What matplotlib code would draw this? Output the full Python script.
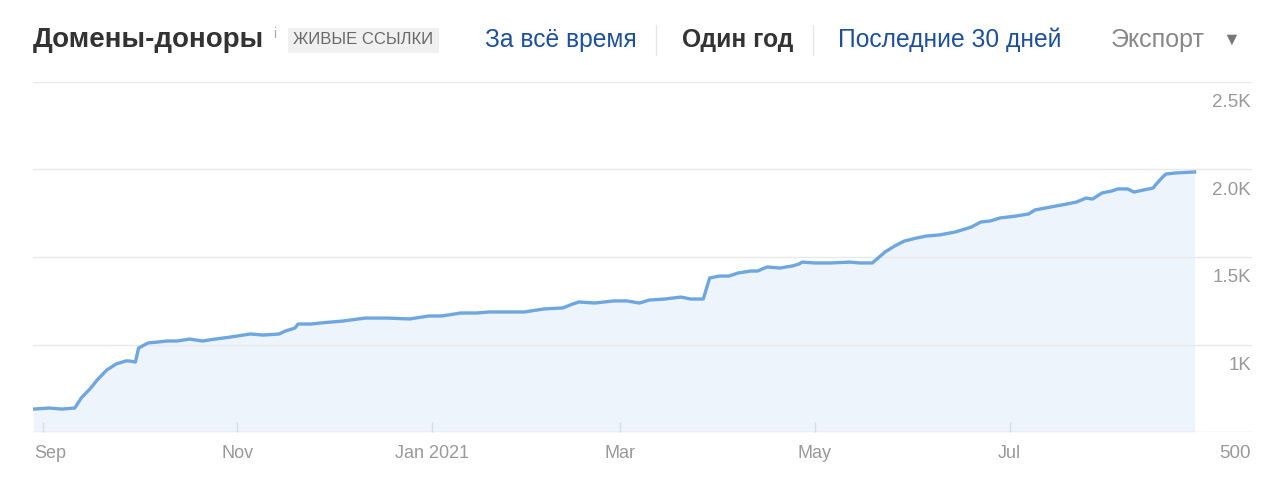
import matplotlib.pyplot as plt
import matplotlib.dates as mdates
import matplotlib.transforms as mtransforms
from matplotlib.lines import Line2D
import pandas as pd

# referring domains, live links, one year
dates = ["2020-08-29", "2020-09-03", "2020-09-07", "2020-09-11", "2020-09-13", "2020-09-16",
         "2020-09-18", "2020-09-21", "2020-09-24", "2020-09-27", "2020-09-28", "2020-09-30",
         "2020-10-01", "2020-10-04", "2020-10-07", "2020-10-10", "2020-10-13", "2020-10-17",
         "2020-10-21", "2020-10-25", "2020-10-30", "2020-11-05", "2020-11-09", "2020-11-14",
         "2020-11-16", "2020-11-19", "2020-11-20", "2020-11-24", "2020-11-27", "2020-12-04",
         "2020-12-11", "2020-12-18", "2020-12-25", "2020-12-31", "2021-01-04", "2021-01-10",
         "2021-01-15", "2021-01-19", "2021-01-26", "2021-01-30", "2021-02-05", "2021-02-11",
         "2021-02-14", "2021-02-16", "2021-02-21", "2021-02-27", "2021-03-03", "2021-03-07",
         "2021-03-10", "2021-03-15", "2021-03-20", "2021-03-23", "2021-03-27", "2021-03-28",
         "2021-03-29", "2021-04-01", "2021-04-04", "2021-04-07", "2021-04-11", "2021-04-13",
         "2021-04-16", "2021-04-20", "2021-04-24", "2021-04-26", "2021-04-27", "2021-05-01",
         "2021-05-06", "2021-05-12", "2021-05-15", "2021-05-19", "2021-05-23", "2021-05-26",
         "2021-05-29", "2021-06-02", "2021-06-05", "2021-06-09", "2021-06-14", "2021-06-19",
         "2021-06-22", "2021-06-25", "2021-06-28", "2021-07-03", "2021-07-07", "2021-07-09",
         "2021-07-14", "2021-07-19", "2021-07-22", "2021-07-25", "2021-07-27", "2021-07-30",
         "2021-08-02", "2021-08-04", "2021-08-07", "2021-08-09", "2021-08-12", "2021-08-15",
         "2021-08-16", "2021-08-18", "2021-08-19", "2021-08-22", "2021-08-28"]
values = [631, 637, 631, 637, 694, 751,
          797, 854, 889, 906, 906, 900,
          980, 1009, 1014, 1020, 1020, 1031,
          1020, 1031, 1043, 1060, 1054, 1060,
          1077, 1094, 1117, 1117, 1123, 1134,
          1151, 1151, 1146, 1163, 1163, 1180,
          1180, 1186, 1186, 1186, 1203, 1209,
          1231, 1243, 1237, 1249, 1249, 1237,
          1254, 1260, 1271, 1260, 1260, 1320,
          1380, 1391, 1391, 1409, 1420, 1420,
          1443, 1437, 1449, 1460, 1471, 1466,
          1466, 1471, 1466, 1466, 1529, 1563,
          1591, 1609, 1620, 1626, 1643, 1671,
          1700, 1706, 1723, 1734, 1746, 1769,
          1786, 1803, 1814, 1837, 1831, 1866,
          1877, 1889, 1889, 1871, 1883, 1894,
          1917, 1957, 1974, 1980, 1986]

month_ticks = ["2020-09-01", "2020-11-01", "2021-01-01", "2021-03-01", "2021-05-01", "2021-07-01"]
month_labels = ["Sep", "Nov", "Jan 2021", "Mar", "May", "Jul"]
y_ticks = [500, 1000, 1500, 2000, 2500]
y_labels = ["500", "1K", "1.5K", "2.0K", "2.5K"]

plt.rcParams['font.family'] = ['Liberation Sans', 'DejaVu Sans']

W, H = 1280, 488
fig = plt.figure(figsize=(W / 100, H / 100), dpi=100)
ax = fig.add_axes([33 / W, 1 - 432 / H, (1252 - 33) / W, 350 / H])

x = pd.to_datetime(dates)
ax.fill_between(x, values, 500, color="#eef4fc", lw=0, zorder=1)
for v in y_ticks:
    ax.axhline(v, color="#dedede" if v == 500 else "#e8e8e8", lw=1, zorder=1.5)
ax.plot(x, values, color="#6ea6e0", lw=2.4, solid_joinstyle="round", zorder=3)

start = mdates.date2num(pd.Timestamp("2020-09-01"))
ax.set_xlim(start - 3.1, start + 379)
ax.set_ylim(500, 2500)

for s in ax.spines.values():
    s.set_visible(False)

ax.set_yticks([])
ax.set_xticks(pd.to_datetime(month_ticks))
ax.set_xticklabels(month_labels)
ax.tick_params(axis="x", direction="in", length=7, color="#dcdcdc", width=1,
               labelsize=13, labelcolor="#999999", pad=9)
# first label sits a bit right of its tick, as in the app
first = ax.get_xticklabels()[0]
first.set_transform(first.get_transform() +
                    mtransforms.ScaledTranslation(7 / 100, 0, fig.dpi_scale_trans))

for v, lab in zip(y_ticks, y_labels):
    ax.annotate(lab, xy=(1, v), xycoords=("axes fraction", "data"),
                xytext=(-1, -21), textcoords="offset pixels",
                ha="right", va="center", fontsize=13.5, color="#999999")

# header
yh = 1 - 40 / H
fig.text(33 / W, yh, "Домены-доноры", fontsize=20, fontweight="bold", color="#333333",
         ha="left", va="center")
fig.text(273 / W, 1 - 34 / H, "i", fontsize=10, color="#aaaaaa", ha="left", va="center")
fig.text(363.5 / W, yh, "ЖИВЫЕ ССЫЛКИ", fontsize=12, color="#6a6a6a", ha="center", va="center",
         bbox=dict(boxstyle="square,pad=0.3", fc="#f0f0f0", ec="none"))
fig.text(485 / W, yh, "За всё время", fontsize=17.7, color="#1d4f9c", ha="left", va="center")
fig.text(682 / W, yh, "Один год", fontsize=17.7, fontweight="bold", color="#333333",
         ha="left", va="center")
fig.text(838 / W, yh, "Последние 30 дней", fontsize=17.7, color="#1d4f9c", ha="left", va="center")
fig.text(1111 / W, yh, "Экспорт", fontsize=18, color="#888888", ha="left", va="center")
fig.text(1231 / W, yh, "▼", fontsize=13, color="#777777", ha="center", va="center")
for sx in (656, 813):
    fig.add_artist(Line2D([sx / W, sx / W], [1 - 25 / H, 1 - 55 / H], color="#e6e6e6", lw=1))

fig.savefig("out.png", dpi=100, facecolor="white")
